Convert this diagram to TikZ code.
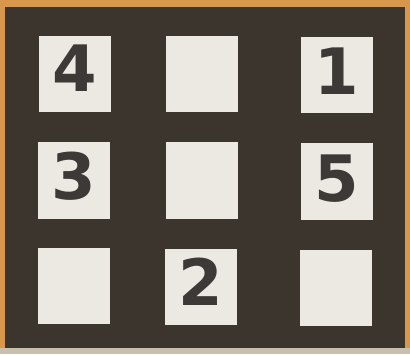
\documentclass[tikz,border=0pt]{standalone}
\usepackage{fontspec}
\setmainfont{DejaVu Sans}
\definecolor{orangeedge}{HTML}{D8974A}
\definecolor{bottomstrip}{HTML}{C9BFAE}
\definecolor{boardbg}{HTML}{3B352D}
\definecolor{tilefill}{HTML}{ECE8E2}
\definecolor{digitcol}{HTML}{3C3936}
\begin{document}
\begin{tikzpicture}[x=1pt,y=-1pt,
  tile/.style={fill=tilefill, draw=none, minimum width=72pt, minimum height=76pt, inner sep=0pt, anchor=center},
  digit/.style={text=digitcol, font=\fontsize{64}{64}\selectfont\bfseries, inner sep=0pt, anchor=center}]
\useasboundingbox (0,0) rectangle (410,354);
\fill[orangeedge] (0,0) rectangle (410,354);
\fill[bottomstrip] (0,348) rectangle (410,354);
\fill[boardbg] (5,7) rectangle (405,348);
% tiles
\node[tile] (t11) at (74.5,73.5) {};
\node[tile] (t12) at (201.5,73.5) {};
\node[tile] (t13) at (337,74.5) {};
\node[tile, minimum height=77pt] (t21) at (74,180) {};
\node[tile, minimum height=77pt] (t22) at (201.5,180) {};
\node[tile, minimum height=77pt] (t23) at (337,181.5) {};
\node[tile] (t31) at (73.5,286) {};
\node[tile] (t32) at (200.5,287) {};
\node[tile] (t33) at (336,288) {};
% digits
\node[digit] (d4) at ([yshift=5pt]t11.center) {4};
\node[digit] (d1) at ([yshift=3pt]t13.center) {1};
\node[digit] (d3) at ([yshift=4pt]t21.center) {3};
\node[digit] (d5) at ([yshift=2.5pt]t23.center) {5};
\node[digit] (d2) at ([yshift=5pt]t32.center) {2};
\end{tikzpicture}
\end{document}
